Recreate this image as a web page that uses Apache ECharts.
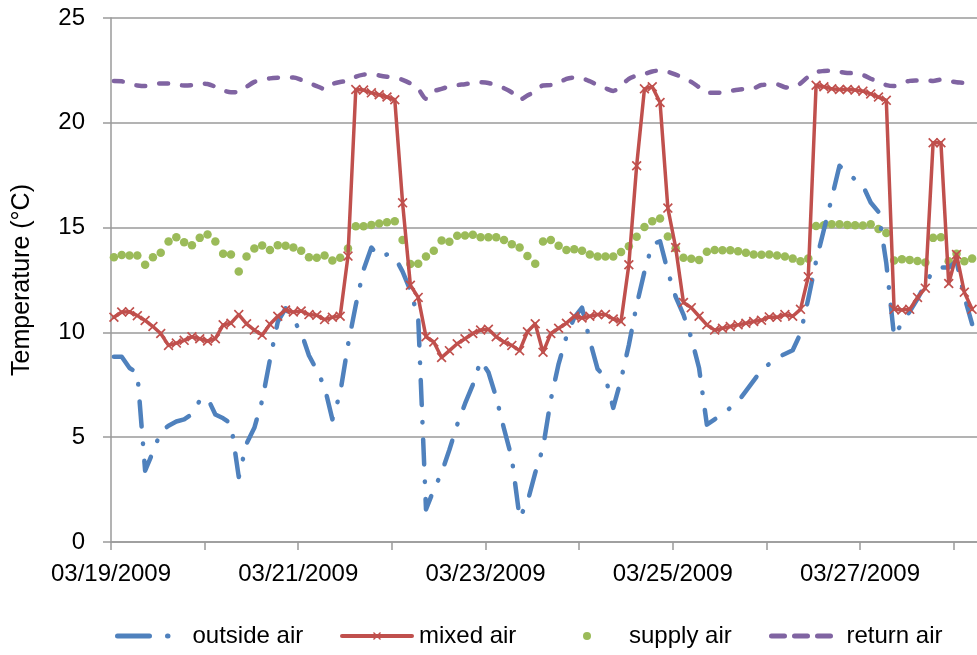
<!DOCTYPE html>
<html>
<head>
<meta charset="utf-8">
<script src="https://cdn.jsdelivr.net/npm/echarts@6/dist/echarts.min.js"></script>
<style>
html,body{margin:0;padding:0;background:#fff;}
#chart{width:977px;height:655px;}
</style>
</head>
<body>
<div id="chart"></div>
<script>
// ---- data (readings every 2 hours from 03/19/2009 ~00:45) ----
var startHour = 0.75;
var stepHours = 2;
var dateLabels = ['03/19/2009', '03/21/2009', '03/23/2009', '03/25/2009', '03/27/2009'];
var seriesNames = ['outside air', 'mixed air', 'supply air', 'return air'];

var outsideAir = [8.84, 8.84, 8.3, 8.07, 3.4, 4.3, 5.25, 5.55, 5.75, 5.85,
  6.1, 6.75, 6.87, 6.08, 5.9, 5.65, 3.1, 4.7, 5.45, 6.75,
  8.7, 10.5, 11.15, 10.6, 10.0, 8.9, 8.2, 7.4, 5.85, 7.1,
  9.4, 11.3, 13.0, 14.05, 13.6, 13.72, 13.6, 12.9, 12.0, 10.7,
  1.55, 2.5, 3.3, 4.4, 5.6, 6.6, 7.5, 8.65, 8.1, 6.9,
  5.4, 4.0, 1.15, 1.9, 3.3, 4.5, 6.8, 8.5, 9.8, 10.7,
  11.18, 9.6, 8.25, 7.85, 6.4, 7.75, 9.4, 11.3, 12.9, 14.2,
  14.35, 12.9, 11.7, 10.85, 9.75, 8.3, 5.6, 5.85, 6.1, 6.4,
  6.7, 7.2, 7.7, 8.2, 8.5, 8.8, 8.97, 9.15, 9.95, 11.6,
  13.4, 14.9, 16.4, 17.95, 17.6, 17.3, 17.0, 16.2, 15.75, 13.3,
  9.8, 10.45, 11.0, 11.6, 12.3, 12.95, 13.1, 13.1, 13.4, 11.7, 10.4];

var mixedAir = [10.72, 10.97, 10.98, 10.8, 10.57, 10.28, 9.95, 9.38, 9.49, 9.62,
  9.79, 9.7, 9.59, 9.7, 10.36, 10.44, 10.85, 10.41, 10.11, 9.87,
  10.39, 10.77, 11.07, 10.97, 11.02, 10.85, 10.82, 10.61, 10.72, 10.77,
  13.64, 21.59, 21.56, 21.43, 21.34, 21.23, 21.1, 16.18, 12.25, 11.67,
  9.79, 9.54, 8.8, 9.13, 9.46, 9.7, 9.95, 10.11, 10.15, 9.79,
  9.54, 9.38, 9.13, 10.03, 10.41, 9.05, 9.95, 10.2, 10.44, 10.77,
  10.69, 10.77, 10.85, 10.85, 10.64, 10.52, 13.23, 17.95, 21.62, 21.72,
  20.97, 15.93, 14.05, 11.43, 11.18, 10.77, 10.36, 10.11, 10.2, 10.28,
  10.36, 10.44, 10.52, 10.58, 10.74, 10.72, 10.85, 10.77, 11.1, 12.66,
  21.79, 21.72, 21.62, 21.59, 21.59, 21.56, 21.51, 21.38, 21.23, 21.07,
  11.1, 11.07, 11.1, 11.67, 12.11, 19.05, 19.05, 12.33, 13.72, 11.92, 11.1];

var supplyAir = [13.59, 13.69, 13.67, 13.67, 13.23, 13.59, 13.8, 14.34, 14.54, 14.3,
  14.16, 14.51, 14.67, 14.34, 13.75, 13.72, 12.9, 13.62, 14.0, 14.15,
  13.93, 14.16, 14.13, 14.05, 13.89, 13.59, 13.56, 13.67, 13.43, 13.56,
  14.0, 15.07, 15.07, 15.13, 15.2, 15.25, 15.3, 14.41, 13.26, 13.28,
  13.62, 13.9, 14.38, 14.33, 14.61, 14.62, 14.66, 14.54, 14.54, 14.54,
  14.41, 14.21, 14.05, 13.64, 13.28, 14.34, 14.41, 14.13, 13.93, 13.97,
  13.89, 13.72, 13.62, 13.62, 13.62, 13.84, 14.11, 14.56, 15.03, 15.3,
  15.43, 14.57, 14.02, 13.56, 13.51, 13.46, 13.85, 13.93, 13.92, 13.92,
  13.87, 13.8, 13.72, 13.71, 13.72, 13.67, 13.62, 13.52, 13.39, 13.52,
  15.08, 15.11, 15.16, 15.16, 15.13, 15.11, 15.1, 15.16, 14.93, 14.74,
  13.43, 13.49, 13.46, 13.41, 13.34, 14.51, 14.54, 13.39, 13.75, 13.39, 13.52];

var returnAir = [22.0, 21.98, 21.85, 21.78, 21.75, 21.82, 21.88, 21.88, 21.82, 21.78,
  21.8, 21.87, 21.85, 21.72, 21.55, 21.46, 21.48, 21.72, 21.95, 22.05,
  22.12, 22.15, 22.16, 22.16, 22.05, 21.9, 21.75, 21.62, 21.85, 21.95,
  22.0, 22.2, 22.3, 22.33, 22.26, 22.2, 22.15, 22.05, 21.88, 21.62,
  21.15, 21.5, 21.62, 21.73, 21.8, 21.84, 21.9, 21.93, 21.9, 21.78,
  21.65, 21.45, 21.1, 21.3, 21.5, 21.78, 21.8, 21.9, 22.1, 22.16,
  22.12, 21.98, 21.8, 21.65, 21.52, 21.75, 22.1, 22.25, 22.33, 22.45,
  22.49, 22.43, 22.3, 22.15, 21.95, 21.7, 21.45, 21.43, 21.45, 21.52,
  21.58, 21.62, 21.65, 21.8, 21.82, 21.83, 21.7, 21.68, 21.88, 22.2,
  22.42, 22.47, 22.48, 22.43, 22.38, 22.36, 22.28, 22.1, 21.97, 21.8,
  21.75, 21.9, 22.0, 22.02, 22.03, 22.0, 22.06, 22.0, 21.93, 21.9, 21.8];

// x in days since 03/19/2009 00:00
function pairs(vals) {
  return vals.map(function (v, i) { return [(startHour + i * stepHours) / 24, v]; });
}

var FONT = "'Liberation Sans', Arial, sans-serif";
var C_BLUE = '#4F81BD', C_RED = '#C0504D', C_GREEN = '#9BBB59', C_PURPLE = '#8064A2';
var GRID_C = '#9a9a9a';
var X_PATH = 'path://M0,1.2L1.2,0L5,3.8L8.8,0L10,1.2L6.2,5L10,8.8L8.8,10L5,6.2L1.2,10L0,8.8L3.8,5Z';

var chart = echarts.init(document.getElementById('chart'), null, {renderer: 'canvas'});

function legendOf(name, left, w, h, padLeft, extra) {
  var o = {
    data: [name], left: left, top: 624, padding: 0, itemWidth: w, itemHeight: h,
    selectedMode: false,
    textStyle: {fontFamily: FONT, fontSize: 24, color: '#000', padding: [0, 0, 0, padLeft]}
  };
  for (var k in extra) o[k] = extra[k];
  return o;
}

chart.setOption({
  animation: false,
  backgroundColor: '#fff',
  grid: {left: 111, right: 0, top: 18, bottom: 113, containLabel: false},
  legend: [
    legendOf(seriesNames[0], 115, 52, 10, 18, {
      itemStyle: {opacity: 0},
      lineStyle: {type: [32, 18, 0.5, 20], cap: 'round', width: 5}
    }),
    legendOf(seriesNames[1], 340, 70, 10, 2, {lineStyle: {width: 4}}),
    legendOf(seriesNames[2], 583, 8, 8, 33, {}),
    legendOf(seriesNames[3], 769, 61, 10, 9, {
      itemStyle: {opacity: 0},
      lineStyle: {type: [13, 10], cap: 'round', width: 5}
    })
  ],
  xAxis: {
    type: 'value', min: 0, max: 9.25, interval: 1,
    axisLine: {show: true, lineStyle: {color: GRID_C, width: 1.5}},
    axisTick: {show: true, length: 8, lineStyle: {color: GRID_C, width: 1.5}},
    splitLine: {show: false},
    axisLabel: {
      margin: 20, fontFamily: FONT, fontSize: 24, color: '#000',
      showMaxLabel: false,
      formatter: function (v) {
        if (Math.abs(v - Math.round(v)) > 1e-6) return '';
        var d = Math.round(v);
        if (d % 2) return '';
        return dateLabels[d / 2] || '';
      }
    }
  },
  yAxis: {
    type: 'value', min: 0, max: 25, interval: 5,
    name: 'Temperature (°C)', nameLocation: 'middle', nameGap: 76, nameRotate: 90,
    nameTextStyle: {fontFamily: FONT, fontSize: 25, color: '#000'},
    axisLine: {show: true, lineStyle: {color: GRID_C, width: 1.5}},
    axisTick: {show: true, length: 8, lineStyle: {color: GRID_C, width: 1.5}},
    splitLine: {show: true, lineStyle: {color: GRID_C, width: 1.5}},
    axisLabel: {margin: 26, fontFamily: FONT, fontSize: 24, color: '#000'}
  },
  series: [
    {
      name: seriesNames[0], type: 'line', data: pairs(outsideAir),
      showSymbol: false, symbol: 'none',
      lineStyle: {color: C_BLUE, width: 4.5, type: [25, 17, 0.5, 17], cap: 'round', join: 'round'},
      itemStyle: {color: C_BLUE}
    },
    {
      name: seriesNames[1], type: 'line', data: pairs(mixedAir),
      symbol: X_PATH, symbolSize: 10, showSymbol: true,
      lineStyle: {color: C_RED, width: 3.5, join: 'round', cap: 'round'},
      itemStyle: {color: C_RED}
    },
    {
      name: seriesNames[2], type: 'scatter', data: pairs(supplyAir),
      symbol: 'circle', symbolSize: 8.5,
      itemStyle: {color: C_GREEN, opacity: 1}
    },
    {
      name: seriesNames[3], type: 'line', data: pairs(returnAir),
      showSymbol: false, symbol: 'none', smooth: 0.3,
      lineStyle: {color: C_PURPLE, width: 4.5, type: [9, 14], cap: 'round', join: 'round'},
      itemStyle: {color: C_PURPLE}
    }
  ]
});
</script>
</body>
</html>
